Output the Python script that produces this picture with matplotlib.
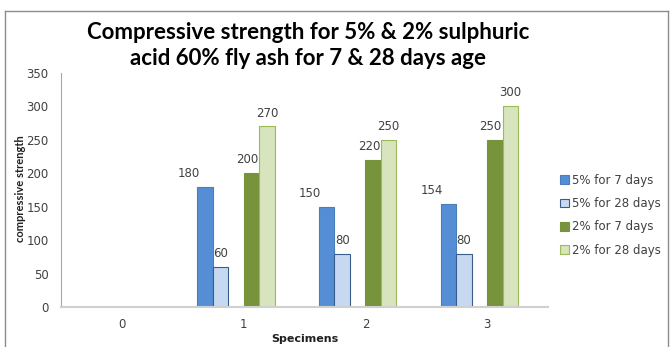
import numpy as np
import matplotlib
matplotlib.use('Agg')
import matplotlib.pyplot as plt
from matplotlib.lines import Line2D

# compressive strength per specimen (0 = no specimen)
specimens = ['0', '1', '2', '3']
s5_7d = [0, 180, 150, 154]
s5_28d = [0, 60, 80, 80]
s2_7d = [0, 200, 220, 250]
s2_28d = [0, 270, 250, 300]
series_names = ['5% for 7 days', '5% for 28 days', '2% for 7 days', '2% for 28 days']

face = ['#558ED5', '#C6D9F1', '#77933C', '#D7E4BD']
edge = ['#4A7EBB', '#385D8A', '#77933C', '#9BBB59']
slot = [0, 1, 3, 4]          # six slots per group, two left empty
label_dx = [-12, 0, -3, 0]   # label nudge in points

fig = plt.figure(figsize=(6.7, 3.47), dpi=100)
ax = fig.add_axes([0.091, 0.1153, 0.727, 0.6743])

x = np.arange(len(specimens))
w = 0.127
for i, vals in enumerate([s5_7d, s5_28d, s2_7d, s2_28d]):
    pos = x + (slot[i] - 2.5) * w
    ax.bar(pos, vals, width=w, color=face[i], edgecolor=edge[i],
           linewidth=0.8, label=series_names[i])
    for p, v in zip(pos, vals):
        if v == 0:
            continue
        ax.annotate(str(v), (p, v), xytext=(label_dx[i], 5), textcoords='offset points',
                    ha='center', va='bottom', fontsize=8.5, color='#404040')

ax.set_xlim(-0.5, 3.5)
ax.set_ylim(0, 350)
ax.set_yticks(range(0, 351, 50))
ax.set_xticks(x)
ax.set_xticklabels(specimens)
ax.tick_params(axis='both', length=0, labelsize=8.5, labelcolor='#404040')
ax.tick_params(axis='y', pad=9)
ax.tick_params(axis='x', pad=8)
for s in ['top', 'right']:
    ax.spines[s].set_visible(False)
ax.spines['left'].set_color('#A6A6A6')
ax.spines['bottom'].set_color('#D0D0D0')
ax.spines['bottom'].set_linewidth(1.5)

ax.set_xlabel('Specimens', fontsize=8, fontweight='bold', labelpad=2, color='#202020')
fig.text(0.03, 0.455, 'compressive strength', rotation=90, ha='center', va='center',
         fontsize=8, fontweight='bold', color='#202020', family='Lato')

fig.text(0.46, 0.868, 'Compressive strength for 5% & 2% sulphuric\nacid 60% fly ash for 7 & 28 days age',
         ha='center', va='center', fontsize=16, fontweight='bold', family='Lato',
         linespacing=1.28)

handles = [plt.Rectangle((0, 0), 1, 1, facecolor=face[i], edgecolor=edge[i], linewidth=0.8)
           for i in range(4)]
fig.legend(handles, series_names, loc='upper left', bbox_to_anchor=(0.82, 0.53),
           frameon=False, fontsize=8.5, handlelength=0.75, handleheight=0.75,
           handletextpad=0.3, labelspacing=0.88, labelcolor='#404040')

# outer chart frame
frame = [Line2D([0.008, 0.008], [0, 0.968]), Line2D([0.008, 0.997], [0.968, 0.968]),
         Line2D([0.997, 0.997], [0, 0.968])]
for ln in frame:
    ln.set_transform(fig.transFigure)
    ln.set_color('#8C8C8C')
    ln.set_linewidth(1)
    fig.add_artist(ln)

fig.savefig('out.png', dpi=100)
